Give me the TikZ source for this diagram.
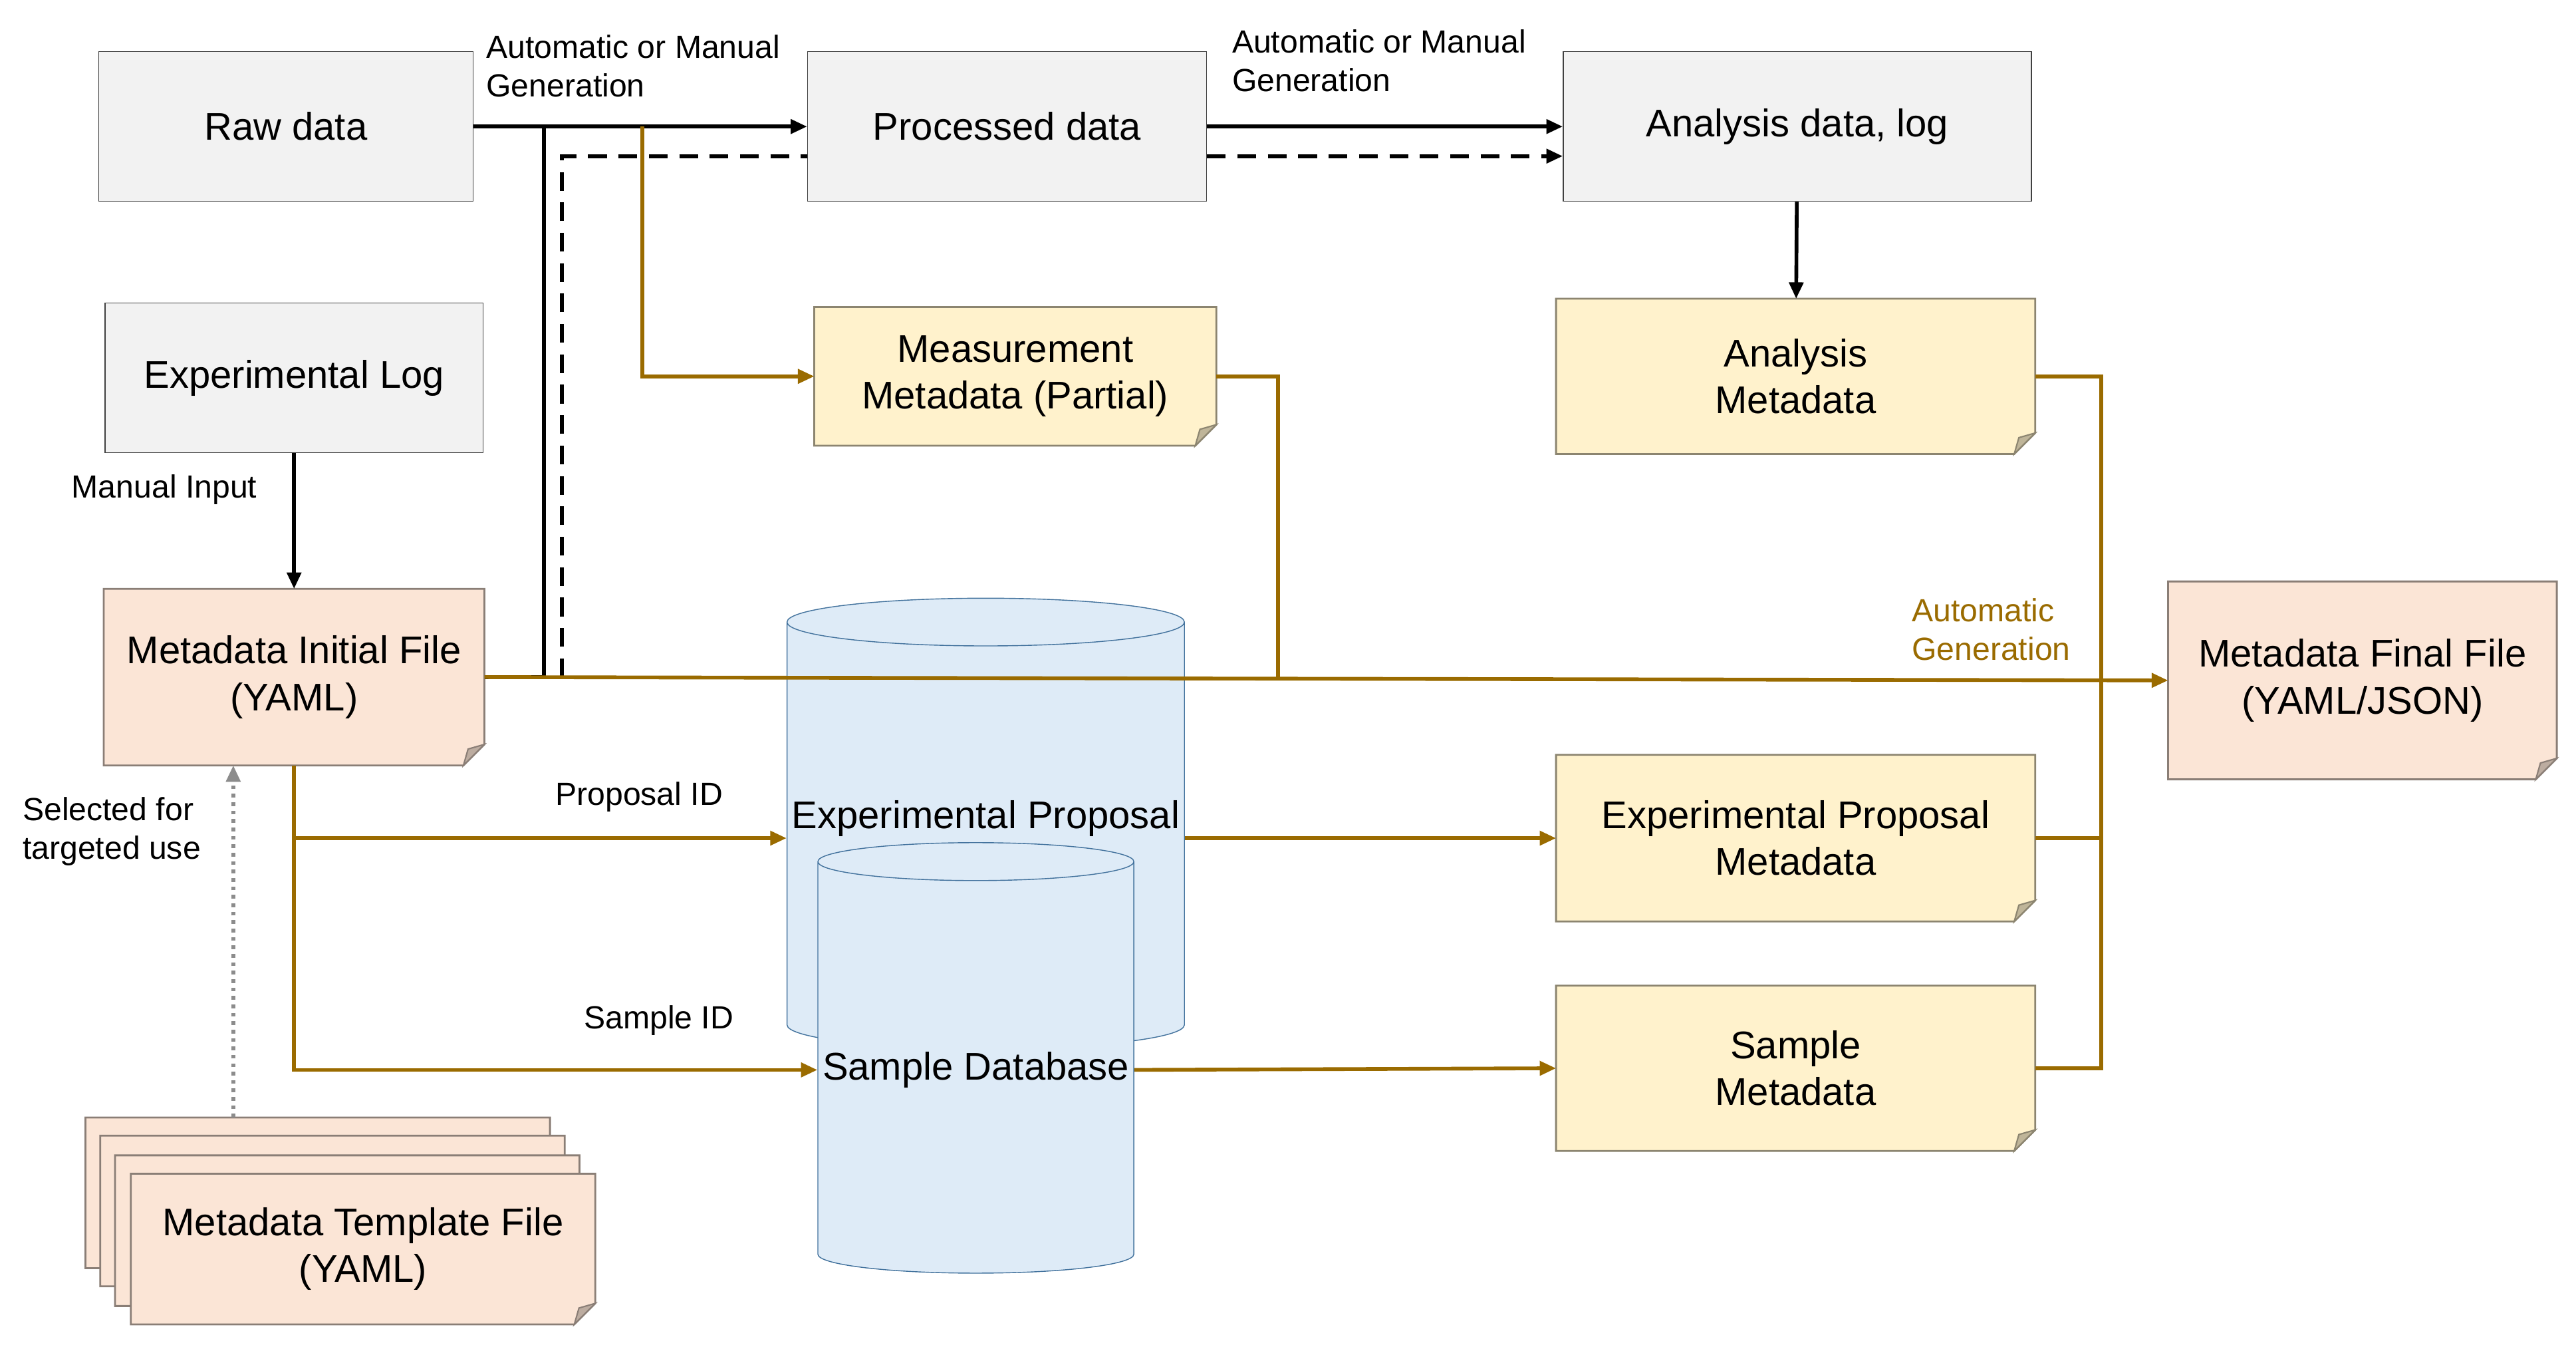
\documentclass[tikz,border=0pt]{standalone}
\usepackage{fontspec}
\setmainfont{Liberation Sans}
\usetikzlibrary{shapes.geometric,arrows.meta,calc,backgrounds}
\definecolor{boxgray}{HTML}{F2F2F2}
\definecolor{noteyel}{HTML}{FFF2CC}
\definecolor{notered}{HTML}{FBE5D6}
\definecolor{dbblue}{HTML}{DEEBF7}
\definecolor{dbblueb}{HTML}{41719C}
\definecolor{brownline}{HTML}{9A6B00}
\definecolor{dotgray}{HTML}{8C8C8C}
% folded note outline, drawn behind the node
\newcommand{\foldnote}[2]{%
  \begin{pgfonlayer}{background}
  \filldraw[fill=#2, draw=#2!55!black, line width=0.8pt]
    (#1.north west) -- (#1.north east) -- ([yshift=9pt]#1.south east)
    -- ([xshift=-9pt]#1.south east) -- (#1.south west) -- cycle;
  \filldraw[fill=#2!75!black, draw=#2!55!black, line width=0.6pt]
    ([yshift=9pt]#1.south east) -- ([xshift=-7pt,yshift=7pt]#1.south east)
    -- ([xshift=-9pt]#1.south east) -- cycle;
  \end{pgfonlayer}}

\begin{document}
\begin{tikzpicture}[x=0.247mm, y=-0.247mm,
  font=\fontsize{16.5}{20}\selectfont,
  box/.style = {draw=black!75, fill=boxgray, align=center, inner sep=2pt},
  note/.style = {align=center, inner sep=2pt},
  db/.style = {draw=dbblueb, fill=dbblue, cylinder, shape border rotate=90, aspect=0.12, align=center, inner sep=2pt},
  lbl/.style = {font=\fontsize{13.7}{16.5}\selectfont, align=left},
  blk/.style = {draw=black, line width=1.6pt, -{Triangle[length=7pt,width=6pt]}},
  brn/.style = {draw=brownline, line width=1.6pt, -{Triangle[length=7pt,width=6pt]}},
  dsh/.style = {dash pattern=on 8pt off 5pt}]
\useasboundingbox (0,0) rectangle (1568,822);

% top row
\node[box, minimum width=56.3mm, minimum height=22.5mm] (raw) at (174,77) {Raw data};
\node[box, minimum width=60mm, minimum height=22.5mm] (proc) at (613,77) {Processed data};
\node[box, minimum width=70.4mm, minimum height=22.5mm] (ana) at (1094,77) {Analysis data, log};
\node[box, minimum width=56.8mm, minimum height=22.5mm] (explog) at (179,230) {Experimental Log};

% metadata notes
\node[note, minimum width=60.3mm, minimum height=20.7mm] (meas) at (618,229) {Measurement\\Metadata (Partial)};
\node[note, minimum width=71.9mm, minimum height=23.2mm] (anameta) at (1093,229) {Analysis\\Metadata};
\node[note, minimum width=57.1mm, minimum height=26.4mm] (init) at (179,412) {Metadata Initial File\\(YAML)};
\node[note, minimum width=58.3mm, minimum height=29.6mm] (final) at (1438,414) {Metadata Final File\\(YAML/JSON)};
\node[note, minimum width=71.9mm, minimum height=24.9mm] (propmeta) at (1093,510) {Experimental Proposal\\Metadata};
\node[note, minimum width=71.9mm, minimum height=24.7mm] (smpmeta) at (1093,650) {Sample\\Metadata};
\foreach \n in {meas, anameta, propmeta, smpmeta} {\foldnote{\n}{noteyel}}
\foreach \n in {init, final} {\foldnote{\n}{notered}}

% databases
\node[db, minimum height=67.7mm, minimum width=28.7mm] (propdb) at (600,510) {Experimental Proposal\\Database};
\node[db, minimum height=64.7mm, minimum width=26.2mm] (smpdb) at (594,651) {Sample Database};

% template stack
\foreach \i/\dx/\dy in {3/52/680, 2/61/691, 1/70/703} {
  \node[note, minimum width=69.7mm, minimum height=22.5mm, anchor=north west] (tpl\i) at (\dx,\dy) {};
  \foldnote{tpl\i}{notered}}
\node[note, minimum width=69.7mm, minimum height=22.5mm] (tpl) at (221,760) {Metadata Template File\\(YAML)};
\foldnote{tpl}{notered}

% junctions
\coordinate (jv) at (331,412);
\coordinate (jd) at (342,412);
\coordinate (jm) at (391,77);
\coordinate (jmeas) at (778,413);
\coordinate (jr) at (1279,229);
\coordinate (jsel) at (142,680);

% black connectors
\draw[blk] (raw.east) -- (proc.west);
\draw[blk] (proc.east) -- (ana.west);
\draw[line width=1.6pt] (init.east |- jv) -- (jv) -- (jv |- raw.east);
\draw[blk] (explog) -- (init);
\draw[blk] (ana) -- (anameta);
\draw[line width=1.6pt, dsh] (jd) -- (342,95) -- (proc.west |- 0,95);
\draw[blk, dsh] (proc.east |- 0,95) -- (ana.west |- 0,95);

% brown connectors
\draw[brn] (jm) |- (meas.west);
\draw[brn, -] (meas.east) -| (jmeas);
\draw[brn] (init.east |- 0,412) -- (final.west);
\draw[brn, -] (anameta.east) -| (jr) |- (smpmeta.east);
\draw[brn, -] (propmeta.east) -- (jr |- propmeta.east);
\draw[brn] (init.south) |- (smpdb.west);
\draw[brn] (init.south |- propdb.west) -- (propdb.west);
\draw[brn] (propdb.east) -- (propmeta.west);
\draw[brn] (smpdb.east) -- (smpmeta.west);

% dotted selection
\draw[dotgray, line width=1.6pt, dotted, -{Triangle[length=7pt,width=6pt]}] (jsel) -- (jsel |- init.south);

% labels
\node[lbl, anchor=west] at (291,40) {Automatic or Manual\\Generation};
\node[lbl, anchor=west] at (745,37) {Automatic or Manual\\Generation};
\node[lbl, anchor=center] at (100,298) {Manual Input};
\node[lbl, anchor=center, text=brownline] at (1212,383) {Automatic\\Generation};
\node[lbl, anchor=center] at (389,485) {Proposal ID};
\node[lbl, anchor=center] at (401,621) {Sample ID};
\node[lbl, anchor=center] at (68,506) {Selected for\\targeted use};
\end{tikzpicture}
\end{document}
